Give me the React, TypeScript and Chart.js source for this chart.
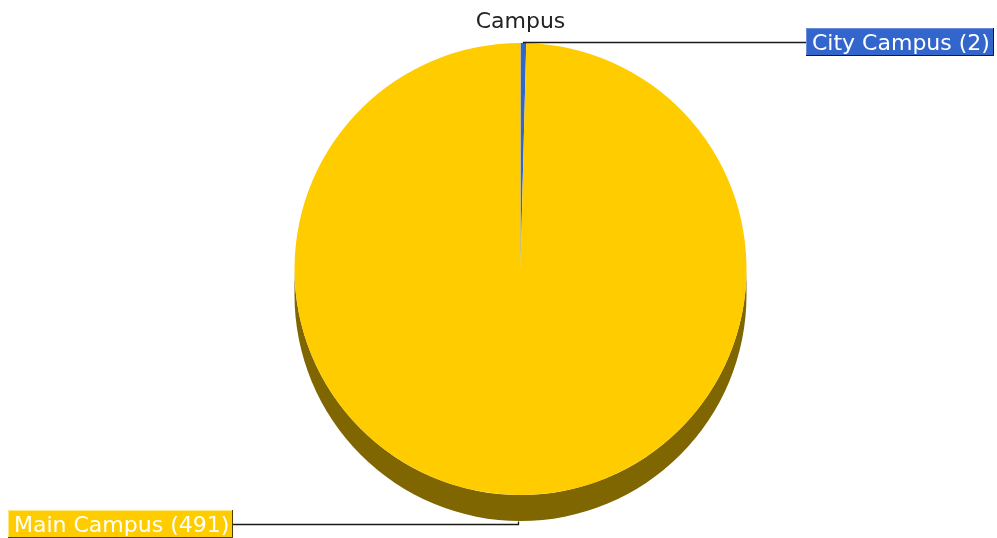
import React, { useEffect, useRef } from "react";
import { Chart, registerables } from "chart.js";

Chart.register(...registerables);

const TITLE = "Campus";
const categories = ["City Campus", "Main Campus"];
const values = [2, 491];
const colors = ["#3366CC", "#FFCC00"];
const sideColors = ["#1A3366", "#806600"];
const boxBorderDark = ["#0A1A40", "#4D3D00"];
const boxBorderLight = ["#6B8FDB", "#FFE680"];

const W = 997;
const H = 538;
const DEPTH = 26;
const FONT = "'DejaVu Sans', Verdana, sans-serif";

const pie3dPlugin = {
  id: "pie3d",
  beforeDatasetsDraw(chart: any) {
    const ctx = chart.ctx;
    const meta = chart.getDatasetMeta(0);
    meta.data.forEach((arc: any, i: number) => {
      const p = arc.getProps(["x", "y", "startAngle", "endAngle", "outerRadius"], true);
      for (const off of [-2 * Math.PI, 0, 2 * Math.PI]) {
        const a0 = Math.max(p.startAngle, off);
        const a1 = Math.min(p.endAngle, off + Math.PI);
        if (a1 <= a0) continue;
        ctx.save();
        ctx.beginPath();
        ctx.arc(p.x, p.y + DEPTH, p.outerRadius, a0, a1, false);
        ctx.lineTo(p.x + p.outerRadius * Math.cos(a1), p.y + p.outerRadius * Math.sin(a1));
        ctx.arc(p.x, p.y, p.outerRadius, a1, a0, true);
        ctx.closePath();
        ctx.fillStyle = sideColors[i];
        ctx.fill();
        ctx.restore();
      }
    });
  },
  afterDatasetsDraw(chart: any) {
    const ctx = chart.ctx;
    const meta = chart.getDatasetMeta(0);
    const area = chart.chartArea;
    ctx.save();
    // title
    ctx.font = `22px ${FONT}`;
    ctx.fillStyle = "#222222";
    ctx.textAlign = "center";
    ctx.textBaseline = "alphabetic";
    const first = meta.data[0];
    ctx.fillText(TITLE, first ? first.x : (area.left + area.right) / 2, 28);

    ctx.textAlign = "left";
    meta.data.forEach((arc: any, i: number) => {
      const p = arc.getProps(["x", "y", "startAngle", "endAngle", "outerRadius"], true);
      const mid = (p.startAngle + p.endAngle) / 2;
      const ex = p.x + p.outerRadius * Math.cos(mid);
      const up = Math.sin(mid) < 0;
      const ey = p.y + p.outerRadius * Math.sin(mid) + (up ? 0 : DEPTH);
      const ly = Math.round(ey + (up ? -1 : 3)) + 0.5;
      const ax = Math.round(ex) + 0.5;
      const text = `${categories[i]} (${values[i]})`;
      const tw = ctx.measureText(text).width;
      const bw = Math.round(tw + 10);
      const bh = 28;
      const right = Math.cos(mid) >= 0;
      const bx = right ? W - 3 - bw : 8;
      const by = Math.round(ly - 14.5);

      // leader
      ctx.strokeStyle = "#1a1a1a";
      ctx.lineWidth = 1.3;
      ctx.beginPath();
      ctx.moveTo(ax, Math.round(ey) + 0.5);
      ctx.lineTo(ax, ly);
      ctx.lineTo(right ? bx : bx + bw, ly);
      ctx.stroke();

      // box
      ctx.fillStyle = colors[i];
      ctx.fillRect(bx, by, bw, bh);
      ctx.lineWidth = 1;
      ctx.strokeStyle = boxBorderLight[i];
      ctx.beginPath();
      ctx.moveTo(bx + 0.5, by + bh);
      ctx.lineTo(bx + 0.5, by + 0.5);
      ctx.lineTo(bx + bw, by + 0.5);
      ctx.stroke();
      ctx.strokeStyle = boxBorderDark[i];
      ctx.beginPath();
      ctx.moveTo(bx + bw - 0.5, by);
      ctx.lineTo(bx + bw - 0.5, by + bh - 0.5);
      ctx.lineTo(bx, by + bh - 0.5);
      ctx.stroke();

      ctx.fillStyle = "#FFFFFF";
      ctx.fillText(text, bx + 6, ly + 7.5);
    });
    ctx.restore();
  },
};

export default function App() {
  const ref = useRef<HTMLCanvasElement | null>(null);
  useEffect(() => {
    if (!ref.current) return;
    const chart = new Chart(ref.current, {
      type: "pie",
      data: {
        labels: categories,
        datasets: [
          {
            data: values,
            backgroundColor: colors,
            borderWidth: 0,
            hoverOffset: 0,
            offset: 0,
          },
        ],
      },
      options: {
        responsive: false,
        animation: false,
        layout: { padding: { left: 44, right: 0, top: 43, bottom: 43 } },
        plugins: {
          legend: { display: false },
          tooltip: { enabled: false },
          title: { display: false },
        },
        events: [],
      },
      plugins: [pie3dPlugin],
    } as any);
    return () => chart.destroy();
  }, []);
  return (
    <div style={{ position: "absolute", left: 0, top: 0, width: W, height: H, background: "#fff" }}>
      <canvas ref={ref} width={W} height={H} style={{ display: "block" }} />
    </div>
  );
}
